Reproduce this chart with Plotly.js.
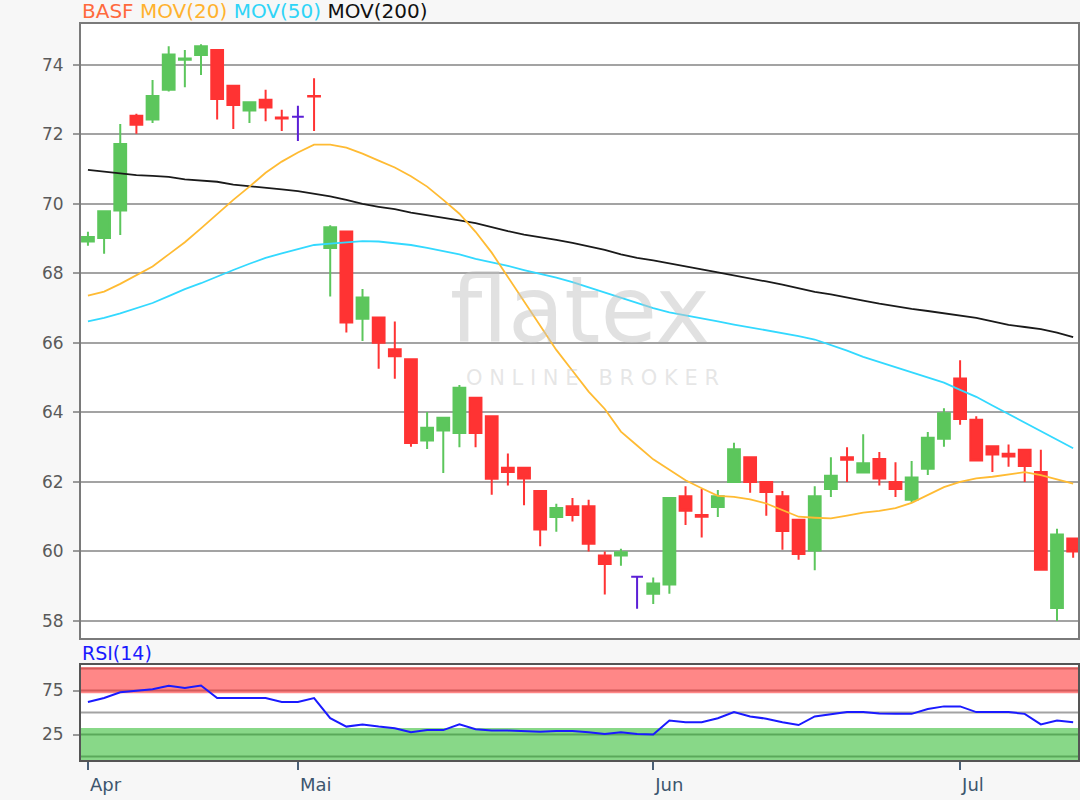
<!DOCTYPE html>
<html>
<head>
<meta charset="utf-8">
<script src="https://cdn.plot.ly/plotly-3.0.1.min.js"></script>
<style>
  html, body { margin: 0; padding: 0; background: #f7f7f7; }
  #chart { width: 1080px; height: 800px; }
</style>
</head>
<body>
<div id="chart"></div>
<script>
// ---- Data ----
const MONTH_TICKS = [0, 13, 35, 54];
const MONTH_LABELS = ['Apr', 'Mai', 'Jun', 'Jul'];

const OPEN = [68.92,69.02,69.81,72.54,72.43,73.29,74.15,74.29,74.43,73.40,72.69,73.00,72.49,72.51,73.11,68.73,69.21,66.70,66.73,65.82,65.53,63.19,63.48,63.41,64.42,63.89,62.41,62.41,61.74,60.99,61.30,61.30,59.88,59.88,59.27,58.78,59.05,61.59,61.05,61.28,62.00,62.71,62.00,61.59,60.91,60.03,61.80,62.71,62.27,62.66,62.00,61.49,62.38,63.24,64.98,63.79,63.03,62.81,62.93,62.29,58.37,60.37];
const HIGH = [69.20,69.80,72.30,72.60,73.57,74.54,74.43,74.60,74.45,73.40,72.95,73.29,72.71,72.83,73.62,69.39,69.22,67.55,66.73,66.62,65.53,64.01,63.87,64.79,64.43,63.90,62.82,62.42,61.75,61.37,61.54,61.49,60.00,60.08,59.27,59.25,61.55,61.88,61.80,61.77,63.13,62.72,62.00,61.74,60.92,61.88,62.71,63.00,63.37,62.86,62.57,62.60,63.44,64.12,65.50,63.89,63.04,63.08,62.94,62.93,60.65,60.38];
const LOW = [68.80,68.57,69.11,72.02,72.33,73.24,73.36,73.71,72.43,72.16,72.33,72.38,72.10,71.81,72.10,67.34,66.30,66.06,65.26,64.97,63.01,62.95,62.26,63.00,63.00,61.63,61.90,61.33,60.15,60.57,60.86,60.00,58.76,59.59,58.35,58.49,58.78,60.76,60.40,60.99,62.00,61.69,61.03,60.05,59.76,59.46,61.57,62.00,62.27,61.90,61.57,61.40,62.20,63.01,63.65,62.60,62.29,62.44,62.00,59.45,58.00,59.82];
const CLOSE = [69.05,69.79,71.73,72.28,73.11,74.30,74.19,74.54,73.02,72.85,72.93,72.78,72.46,72.51,73.09,69.33,66.59,67.31,66.01,65.62,63.12,63.56,63.85,64.71,63.41,62.09,62.29,62.10,60.63,61.25,61.05,60.22,59.64,59.98,59.27,59.08,61.54,61.17,61.00,61.59,62.94,62.00,61.71,60.59,59.93,61.59,62.18,62.64,62.54,62.10,61.80,62.13,63.27,63.98,63.81,62.62,62.79,62.73,62.46,59.47,60.49,60.00];

const MOV20 = [67.36,67.48,67.70,67.95,68.20,68.55,68.90,69.30,69.72,70.12,70.50,70.90,71.22,71.48,71.71,71.71,71.62,71.45,71.25,71.05,70.80,70.50,70.12,69.72,69.20,68.60,67.90,67.20,66.50,65.80,65.20,64.60,64.10,63.45,63.05,62.65,62.35,62.05,61.82,61.60,61.57,61.50,61.38,61.20,61.00,60.97,60.95,61.03,61.12,61.17,61.25,61.40,61.62,61.85,62.00,62.10,62.15,62.22,62.28,62.20,62.08,61.95];
const MOV50 = [66.62,66.72,66.85,67.00,67.15,67.35,67.55,67.72,67.92,68.10,68.28,68.45,68.58,68.70,68.82,68.86,68.90,68.93,68.92,68.88,68.82,68.74,68.64,68.55,68.42,68.33,68.22,68.10,68.00,67.88,67.75,67.60,67.45,67.30,67.15,67.00,66.88,66.80,66.70,66.62,66.53,66.45,66.35,66.27,66.20,66.10,65.95,65.78,65.60,65.45,65.30,65.15,65.00,64.86,64.65,64.45,64.20,63.95,63.70,63.47,63.22,62.97];
const MOV200 = [70.98,70.93,70.88,70.83,70.81,70.78,70.71,70.68,70.64,70.56,70.52,70.48,70.42,70.37,70.30,70.22,70.12,70.00,69.92,69.85,69.75,69.68,69.62,69.53,69.45,69.33,69.22,69.12,69.05,68.97,68.88,68.78,68.68,68.55,68.45,68.38,68.30,68.20,68.12,68.03,67.95,67.85,67.77,67.68,67.57,67.47,67.40,67.32,67.22,67.13,67.05,66.98,66.92,66.86,66.80,66.72,66.62,66.52,66.46,66.40,66.30,66.17];

const RSI14 = [62,66.5,73,75,76.5,80.5,78,80.8,66.5,66.5,66.5,66.5,62,62,66.5,43.5,34,36.5,34,32,27.5,30,30,36.5,31,29.5,29.5,29,28,29,29,27.5,25.5,27.5,25.5,25,41,39,39,43.5,50.5,45.5,43,39,35.8,45.5,48,50.5,50.5,49,48.5,48.5,54,57,57,50.5,50.5,50.5,48.5,36.5,40.8,39];

const Y_TICKS = [58, 60, 62, 64, 66, 68, 70, 72, 74];
const RSI_TICKS = [25, 75];
const RSI_OVERBOUGHT = [72, 101.5];
const RSI_OVERSOLD = [-4, 32.5];
const RSI_LINES = { red: [100, 75], mid: [50], green: [25, 0] };

// ---- Build traces ----
const DAY = OPEN.map((_, i) => i);
const isFlat = i => OPEN[i] === CLOSE[i];
const normal = i => !isFlat(i);
const pick = (arr, keep) => DAY.filter(keep).map(i => arr[i]);

const FONT = 'DejaVu Sans, Verdana, sans-serif';
const GREEN = '#5cc65c', RED = '#ff3333', PURPLE = '#5b1fd6';
const XRANGE = [-0.43, 61.3];
const RSI_RANGE = [-4, 104];

const traces = [
  { type: 'scatter', mode: 'lines', x: DAY, y: MOV200, xaxis: 'x', yaxis: 'y',
    line: { color: '#1a1a1a', width: 1.8 }, hoverinfo: 'skip' },
  { type: 'scatter', mode: 'lines', x: DAY, y: MOV50, xaxis: 'x', yaxis: 'y',
    line: { color: '#33d9ff', width: 1.8 }, hoverinfo: 'skip' },
  { type: 'scatter', mode: 'lines', x: DAY, y: MOV20, xaxis: 'x', yaxis: 'y',
    line: { color: '#ffbb33', width: 1.8 }, hoverinfo: 'skip' },
  { type: 'candlestick', xaxis: 'x', yaxis: 'y',
    x: pick(DAY, normal), open: pick(OPEN, normal), high: pick(HIGH, normal),
    low: pick(LOW, normal), close: pick(CLOSE, normal),
    increasing: { line: { color: GREEN, width: 2 }, fillcolor: GREEN },
    decreasing: { line: { color: RED, width: 2 }, fillcolor: RED },
    whiskerwidth: 0 },
  { type: 'candlestick', xaxis: 'x', yaxis: 'y',
    x: pick(DAY, isFlat), open: pick(OPEN, isFlat), high: pick(HIGH, isFlat),
    low: pick(LOW, isFlat), close: pick(CLOSE, isFlat),
    increasing: { line: { color: PURPLE, width: 2 }, fillcolor: PURPLE },
    decreasing: { line: { color: PURPLE, width: 2 }, fillcolor: PURPLE },
    whiskerwidth: 0 },
  { type: 'scatter', mode: 'lines', x: DAY, y: RSI14, xaxis: 'x2', yaxis: 'y2',
    line: { color: '#1a1aff', width: 2 }, hoverinfo: 'skip' }
];

const hline = (y, color) => ({ type: 'line', xref: 'x2', yref: 'y2',
  x0: XRANGE[0], x1: XRANGE[1], y0: y, y1: y, line: { color: color, width: 2 }, layer: 'below' });

const shapes = [
  { type: 'rect', xref: 'x2', yref: 'y2', x0: XRANGE[0], x1: XRANGE[1],
    y0: RSI_OVERBOUGHT[0], y1: RSI_OVERBOUGHT[1], fillcolor: '#ff8787', line: { width: 0 }, layer: 'below' },
  { type: 'rect', xref: 'x2', yref: 'y2', x0: XRANGE[0], x1: XRANGE[1],
    y0: RSI_OVERSOLD[0], y1: RSI_OVERSOLD[1], fillcolor: '#88d888', line: { width: 0 }, layer: 'below' }
].concat(RSI_LINES.red.map(v => hline(v, '#d45a5a')))
 .concat(RSI_LINES.mid.map(v => hline(v, '#a3a3a3')))
 .concat(RSI_LINES.green.map(v => hline(v, '#5aa95a')));

const layout = {
  width: 1080, height: 800,
  paper_bgcolor: '#f7f7f7', plot_bgcolor: '#ffffff',
  margin: { l: 81, r: 2, t: 24, b: 40 },
  showlegend: false,
  boxgap: 0.27, boxgroupgap: 0.0,
  font: { family: FONT, color: '#606060' },
  xaxis: {
    domain: [0, 1], anchor: 'y', range: XRANGE, rangeslider: { visible: false },
    showticklabels: false, ticks: '', showgrid: false, zeroline: false,
    showline: true, mirror: true, linecolor: '#7a7a7a', linewidth: 2
  },
  yaxis: {
    domain: [0.1658, 1], anchor: 'x', range: [57.51, 75.18],
    tickvals: Y_TICKS, ticks: 'outside', ticklen: 6, tickcolor: '#9a9a9a', tickwidth: 2,
    tickfont: { family: FONT, size: 17, color: '#5a5a5a' },
    showgrid: true, gridcolor: '#a3a3a3', gridwidth: 2, zeroline: false,
    showline: true, mirror: true, linecolor: '#7a7a7a', linewidth: 2,
    ticklabelstandoff: 6
  },
  xaxis2: {
    domain: [0, 1], anchor: 'y2', range: XRANGE, rangeslider: { visible: false },
    tickvals: MONTH_TICKS, ticktext: MONTH_LABELS,
    ticks: 'outside', ticklen: 8, tickwidth: 2, tickcolor: '#4a6078',
    ticklabelposition: 'outside right', ticklabelstandoff: 7,
    tickfont: { family: FONT, size: 18, color: '#3d566e' },
    showgrid: false, zeroline: false,
    showline: true, mirror: true, linecolor: '#555555', linewidth: 2
  },
  yaxis2: {
    domain: [0, 0.129], anchor: 'x2', range: RSI_RANGE,
    tickvals: RSI_TICKS, ticks: 'outside', ticklen: 6, tickcolor: '#9a9a9a', tickwidth: 2,
    tickfont: { family: FONT, size: 17, color: '#5a5a5a' },
    showgrid: false, zeroline: false,
    showline: true, mirror: true, linecolor: '#555555', linewidth: 2,
    ticklabelstandoff: 6
  },
  shapes: shapes,
  annotations: [
    { xref: 'paper', yref: 'paper', x: 0, y: 1, xanchor: 'left', yanchor: 'bottom',
      showarrow: false, yshift: -1, xshift: -1,
      font: { family: FONT, size: 20 },
      text: '<span style="color:#ff6a3d">BASF</span> <span style="color:#ffb22e">MOV(20)</span> <span style="color:#2fd4f7">MOV(50)</span> <span style="color:#111111">MOV(200)</span>' },
    { xref: 'paper', yref: 'paper', x: 0, y: 0.129, xanchor: 'left', yanchor: 'bottom',
      showarrow: false, yshift: -1, xshift: -1,
      font: { family: FONT, size: 19, color: '#1a1aff' }, text: 'RSI(14)' },
    { xref: 'paper', yref: 'paper', x: 0.50, y: 0.611, xanchor: 'center', yanchor: 'middle',
      showarrow: false, font: { family: FONT, size: 92, color: 'rgba(195,195,195,0.5)' }, text: 'flatex' },
    { xref: 'paper', yref: 'paper', x: 0.513, y: 0.519, xanchor: 'center', yanchor: 'middle',
      showarrow: false, font: { family: FONT, size: 21, color: 'rgba(200,200,200,0.45)' },
      text: 'O N L I N E &nbsp; B R O K E R' }
  ]
};

Plotly.newPlot('chart', traces, layout, { staticPlot: true, displayModeBar: false });
</script>
</body>
</html>
